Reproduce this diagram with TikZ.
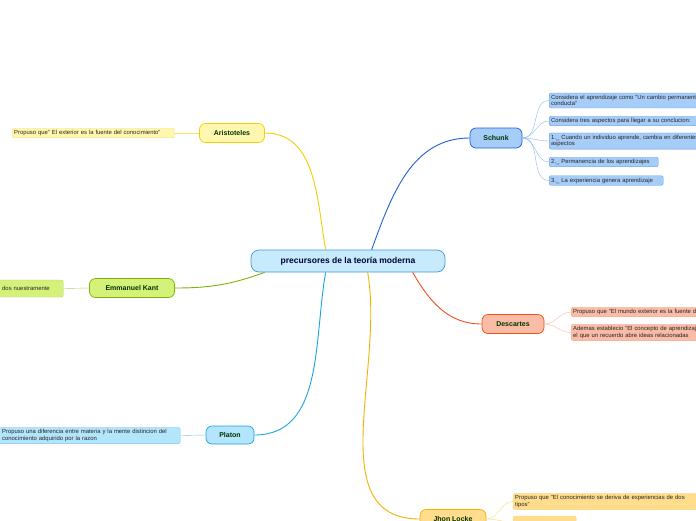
\documentclass[tikz,border=0pt]{standalone}
\usepackage{fontspec}
\setmainfont{Liberation Sans}
\begin{document}
\begin{tikzpicture}[x=1pt,y=-1pt,
 mainbox/.style={draw,rounded corners=6pt,line width=0.7pt,font=\fontsize{7}{8}\selectfont\bfseries,text=black!80!green,inner sep=0pt},
 leafbox/.style={draw,rounded corners=2pt,line width=0.4pt,font=\fontsize{5.9}{6.6}\selectfont,text=black!85,align=left,anchor=west,inner sep=2pt,text width=#1},
 leafbox/.default=150pt]
\useasboundingbox (0,0) rectangle (696,520);
\clip (0,0) rectangle (696,520);
\definecolor{cB}{HTML}{1F5FD6}\definecolor{fB}{HTML}{A6CCF8}\definecolor{lB}{HTML}{5C9AE8}
\definecolor{cY}{HTML}{F0D000}\definecolor{fY}{HTML}{FFF7B0}
\definecolor{cG}{HTML}{80B000}\definecolor{fG}{HTML}{D4F27A}
\definecolor{cC}{HTML}{1AA3E0}\definecolor{fC}{HTML}{B3E5FC}
\definecolor{cR}{HTML}{F04E1A}\definecolor{fR}{HTML}{F9BCA6}
\definecolor{cO}{HTML}{F5B000}\definecolor{fO}{HTML}{FFDD8C}
\definecolor{cM}{HTML}{3A9BD5}\definecolor{fM}{HTML}{C7EBFC}
% central
\node[mainbox,draw=cM,fill=fM,minimum width=194pt,minimum height=22pt,rounded corners=8pt,font=\fontsize{8.5}{9}\selectfont\bfseries,text=black!80!blue] (c) at (348,261) {precursores de la teoría moderna};
% main nodes
\node[mainbox,draw=cY,fill=fY,minimum width=65pt,minimum height=19pt] (ar) at (232,133) {Aristoteles};
\node[mainbox,draw=cG,fill=fG,minimum width=85pt,minimum height=19pt] (ka) at (132,288) {Emmanuel Kant};
\node[mainbox,draw=cC,fill=fC,minimum width=48pt,minimum height=18pt] (pl) at (230,435) {Platon};
\node[mainbox,draw=cB,fill=fB,minimum width=52pt,minimum height=20pt] (sc) at (496,138) {Schunk};
\node[mainbox,draw=cR,fill=fR,minimum width=62pt,minimum height=19pt] (de) at (513,324) {Descartes};
\node[mainbox,draw=cO,fill=fO,minimum width=66pt,minimum height=19pt] (lo) at (453,519) {Jhon Locke};
% main connectors
\draw[cY,line width=0.9pt] ([xshift=75pt]c.north west) to[out=100,in=0] (ar.east);
\draw[cG,line width=0.9pt] ([xshift=14pt]c.south west) to[out=200,in=0] (ka.east);
\draw[cC,line width=0.9pt] ([xshift=75pt]c.south west) to[out=260,in=0] (pl.east);
\draw[cB,line width=0.9pt] ([xshift=121pt]c.north west) to[out=70,in=180] (sc.west);
\draw[cR,line width=0.9pt] ([xshift=162pt]c.south west) to[out=-60,in=180] (de.west);
\draw[cO,line width=0.9pt] ([xshift=117pt]c.south west) to[out=-80,in=180] (lo.west);
% leaves
\node[leafbox=158pt,draw=cY!60,fill=fY] (ar1) at (12,133) {Propuso que" El exterior es la fuente del conocimiento"};
\node[leafbox=69pt,draw=cG!60,fill=fG,minimum height=17pt] (ka1) at (-10,288.5) {\hspace*{10pt}dos nuestramente\\[4pt]};
\node[leafbox=181pt,draw=cC!60,fill=fC] (pl1) at (-5,435.5) {\hspace*{5pt}Propuso una diferencia entre materia y la mente distincion del\\\hspace*{5pt}conocimiento adquirido por la razon};
\draw[cY!60,line width=0.4pt] (ar.west) -- (ar1.east);
\draw[cG!60,line width=0.4pt] (ka.west) -- (ka1.east);
\draw[cC!60,line width=0.4pt] (pl.west) -- (pl1.east);
\node[leafbox=170pt,draw=lB,fill=fB] (s1) at (549,100.5) {Considera el aprendizaje como "Un cambio permanente en la\\conducta"};
\node[leafbox=170pt,draw=lB,fill=fB] (s2) at (549,121) {Considera tres aspectos para llegar a su conclucion:};
\node[leafbox=170pt,draw=lB,fill=fB] (s3) at (549,141) {1.\_ Cuando un individuo aprende, cambia en diferentes\\aspectos};
\node[leafbox=105pt,draw=lB,fill=fB] (s4) at (549,162) {2.\_ Permanencia de los aprendizajes};
\node[leafbox=110pt,draw=lB,fill=fB] (s5) at (549,180.5) {3.\_ La experiencia genera aprendizaje};
\foreach \s in {s1,s2,s3,s4,s5}{\draw[lB!70,line width=0.4pt] (sc.east) to[out=0,in=180] (\s.west);}
\node[leafbox=150pt,draw=cR!50,fill=fR] (d1) at (571,312) {Propuso que "El mundo exterior es la fuente del};
\node[leafbox=150pt,draw=cR!50,fill=fR] (d2) at (571,332.5) {Ademas establecio "El concepto de aprendizaje\\el que un recuerdo abre ideas relacionadas};
\foreach \s in {d1,d2}{\draw[cR!40,line width=0.4pt] (de.east) to[out=0,in=180] (\s.west);}
\node[leafbox=185pt,draw=cO!50,fill=fO] (l1) at (513,501.5) {Propuso que "El conocimiento se deriva de experiencias de dos\\tipos"};
\node[leafbox=59pt,draw=cO!50,fill=fO,minimum height=12pt] (l2) at (513,522) {};
\foreach \s in {l1,l2}{\draw[cO!50,line width=0.4pt] (lo.east) to[out=0,in=180] (\s.west);}
\end{tikzpicture}
\end{document}
